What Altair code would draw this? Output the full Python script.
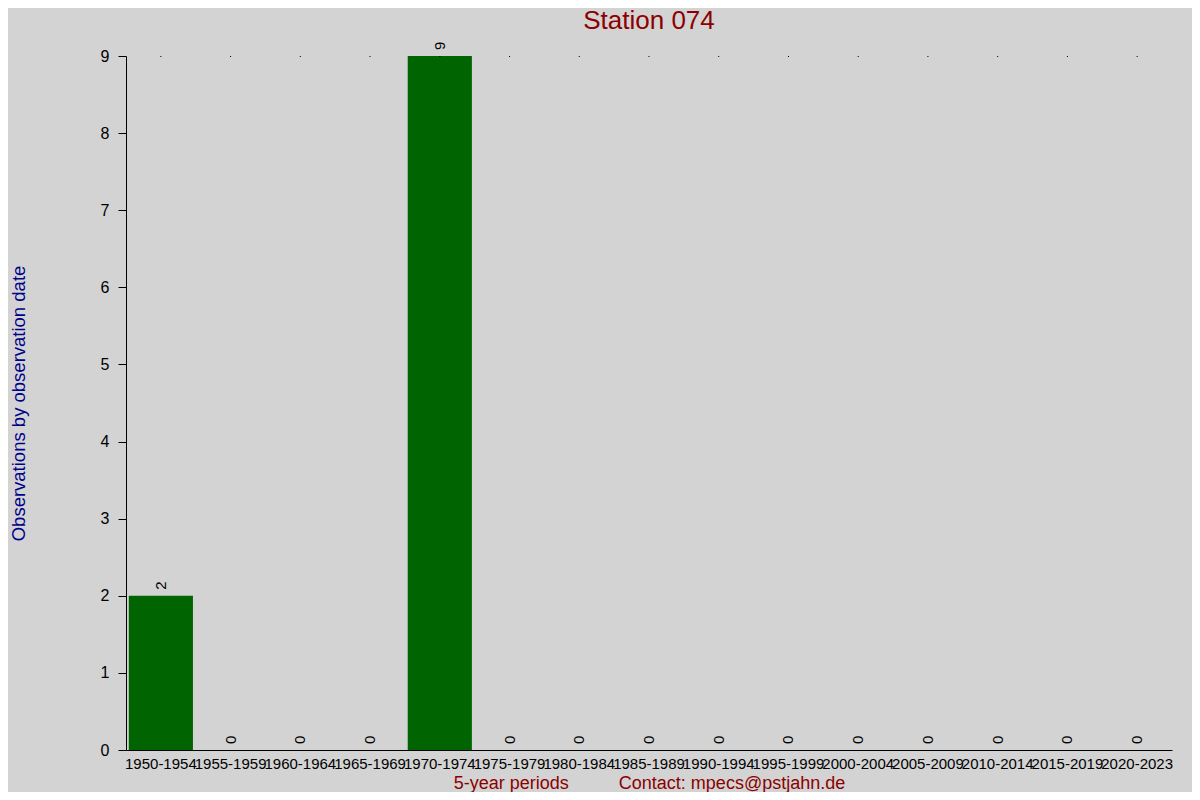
import altair as alt
import pandas as pd

title_text = ["Station 074"]
periods = ["1950-1954", "1955-1959", "1960-1964", "1965-1969", "1970-1974",
           "1975-1979", "1980-1984", "1985-1989", "1990-1994", "1995-1999",
           "2000-2004", "2005-2009", "2010-2014", "2015-2019", "2020-2023"]
counts = [2, 0, 0, 0, 9, 0, 0, 0, 0, 0, 0, 0, 0, 0, 0]

df = pd.DataFrame({"period": periods, "count": counts})

FONT = "Liberation Sans"
NB = "\u00a0"
xtitle = "5-year periods" + NB * 10 + "Contact: mpecs@pstjahn.de"

xscale = alt.Scale(paddingInner=0.08, paddingOuter=0.04)
yscale = alt.Scale(domain=[0, 9], nice=False)

x_main = alt.X(
    "period:N", sort=periods, scale=xscale,
    axis=alt.Axis(
        title=xtitle, titleFont=FONT, titleFontSize=18, titleFontWeight="normal",
        titleColor="#8B0000", titleX=523, titleY=33, titleBaseline="middle",
        titleAlign="center", titleAnchor="middle",
        labelAngle=0, labelFont=FONT, labelFontSize=15, labelColor="black",
        labelPadding=6, labelOverlap=False, labelFlush=False, labelBound=False,
        ticks=False, domainColor="black", domainWidth=1, grid=False,
    ),
)

y_main = alt.Y(
    "count:Q", scale=yscale,
    axis=alt.Axis(
        values=list(range(10)), grid=False, domainColor="black", tickColor="black",
        tickSize=8, labelFont=FONT, labelFontSize=16, labelColor="black",
        labelPadding=9,
        title="Observations by observation date", titleFont=FONT, titleFontSize=18.5,
        titleFontWeight="normal", titleColor="#00008B", titleX=-108, titleY=347,
        titleAngle=270, titleBaseline="middle", titleAlign="center",
    ),
)

base = alt.Chart(df)

bars = base.mark_bar(color="#006400").encode(x=x_main, y=y_main)

labels = base.mark_text(
    angle=270, align="left", baseline="middle", dx=6, font=FONT, fontSize=15,
    color="black",
).encode(x=x_main, y=y_main, text="count:Q")

dots = base.mark_rule(color="black", strokeWidth=1).encode(
    x=x_main, y=alt.value(0), y2=alt.value(1),
)

title = alt.Chart(pd.DataFrame({"t": title_text})).mark_text(
    font=FONT, fontSize=26, color="#8B0000", align="center", baseline="alphabetic",
).encode(text="t:N", x=alt.value(523), y=alt.value(-27))

chart = alt.layer(bars, labels, dots, title).properties(
    width=1046, height=694,
    background="#D3D3D3",
    autosize=alt.AutoSizeParams(type="none"),
    padding={"left": 118, "top": 48, "right": 20, "bottom": 42},
).configure_view(stroke=None)

chart.save("out.html", embed_options={"renderer": "svg", "actions": False})
